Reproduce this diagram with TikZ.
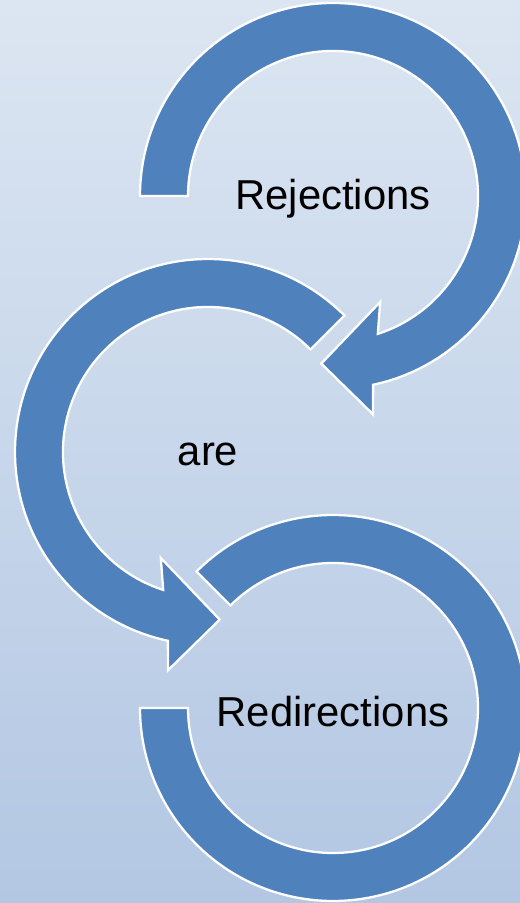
\documentclass[tikz,border=0pt]{standalone}
\usepackage{fontspec}
\setmainfont{Liberation Sans}
\usetikzlibrary{positioning,calc}
\definecolor{bgtop}{HTML}{DCE6F2}
\definecolor{bgbottom}{HTML}{B3C7E3}
\definecolor{arrowblue}{HTML}{4F81BD}

\begin{document}
\begin{tikzpicture}[x=0.02cm, y=0.02cm, font=\fontsize{23.8}{28}\selectfont,
        band/.style={fill=arrowblue, draw=white, line width=1.3pt, line join=miter}]
        \shade[top color=bgtop, bottom color=bgbottom] (0,0) rectangle (520,903);
        \useasboundingbox (0,0) rectangle (520,903);
        \clip (0,0) rectangle (520,903);

        \coordinate (rejc) at (333,707);
        \coordinate (arec) at (208,451);
        \coordinate (redirc) at (333,195);

        % first ring, head pointing down-left
        \begin{scope}[shift={(rejc)}]
            \draw[band] (180:193) arc[start angle=180, end angle=-78, radius=193]
                -- (-79.6:222) -- (-94:168) -- (-66:116) -- (-72:145)
                arc[start angle=-72, end angle=180, radius=145] -- cycle;
        \end{scope}

        % second ring, head pointing down-right
        \begin{scope}[shift={(arec)}]
            \draw[band] (45:193) arc[start angle=45, end angle=258, radius=193]
                -- (259.6:222) -- (274:168) -- (246:116) -- (252:145)
                arc[start angle=252, end angle=45, radius=145] -- cycle;
        \end{scope}

        % last ring, no head
        \begin{scope}[shift={(redirc)}]
            \draw[band] (135:193) arc[start angle=135, end angle=-180, radius=193]
                -- (180:145) arc[start angle=-180, end angle=135, radius=145] -- cycle;
        \end{scope}

        \node[anchor=base] (rejtext) at (333,693) {Rejections};
        \node[anchor=base] (aretext) at (208,437) {are};
        \node[anchor=base] (redirtext) at (333,176) {Redirections};
    \end{tikzpicture}
\end{document}
